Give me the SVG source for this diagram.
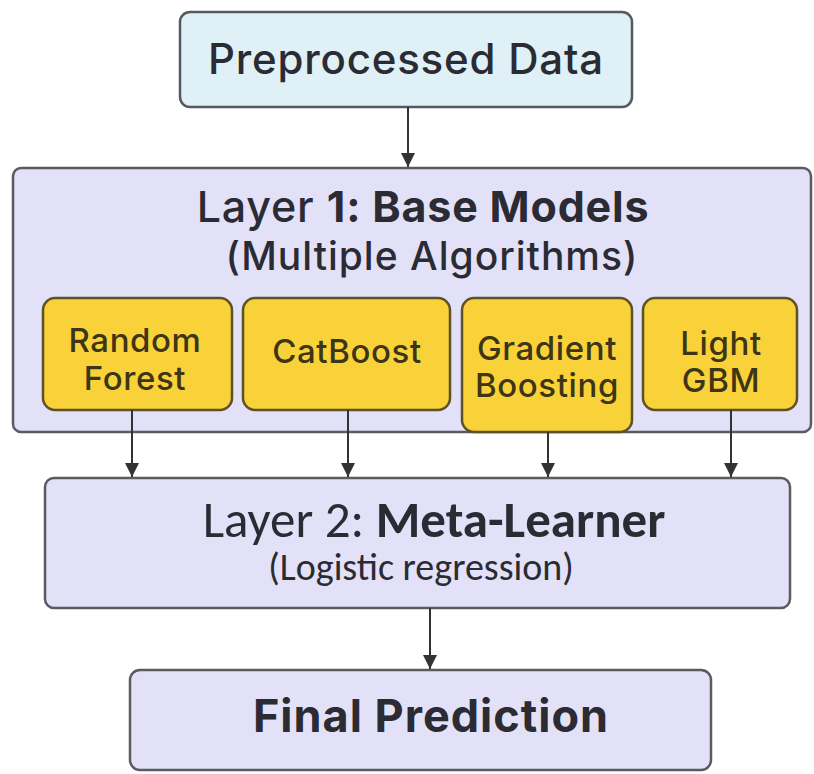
<svg xmlns="http://www.w3.org/2000/svg" width="814" height="774" viewBox="0 0 814 774">
<defs>
<marker id="ah" viewBox="0 0 10 10" refX="10" refY="5" markerWidth="15" markerHeight="14" markerUnits="userSpaceOnUse" orient="auto">
<path d="M0,0 L10,5 L0,10 z" fill="#333"/>
</marker>
<style>
.t{font-family:Inter,"Liberation Sans",sans-serif;fill:#2b2b33;text-anchor:middle;font-weight:500}
.b{font-weight:bold}
.lav{fill:#e3e1f8;stroke:#5a5a60;stroke-width:2.5}
.blue{fill:#dff0f6;stroke:#555a5e;stroke-width:2.5}
.yel{fill:#f9d23a;stroke:#5d5227;stroke-width:2.5}
.yt{font-family:Inter,"Liberation Sans",sans-serif;fill:#3d3515;text-anchor:middle;font-size:33px;font-weight:500;letter-spacing:0.6px}
.c{font-family:Carlito,"Open Sans","Liberation Sans",sans-serif;fill:#2b2b33;text-anchor:middle}
.e{stroke:#333;stroke-width:2;fill:none}
</style>
</defs>
<rect width="814" height="774" fill="#ffffff"/>
<g id="preprocessed">
<rect class="blue" x="180" y="12" width="452" height="95" rx="10"/>
<text class="t" x="406" y="74" font-size="42" letter-spacing="0.8">Preprocessed Data</text>
</g>
<g id="layer1">
<rect class="lav" x="13" y="168" width="798" height="264" rx="8"/>
<text class="t" x="423" y="222" font-size="43" letter-spacing="0.8">Layer <tspan class="b">1: Base Models</tspan></text>
<text class="t" x="432" y="270" font-size="39" letter-spacing="1">(Multiple Algorithms)</text>
</g>
<g id="random-forest">
<rect class="yel" x="43" y="298" width="189" height="112" rx="12"/>
<text class="yt" x="135" y="352">Random</text>
<text class="yt" x="135" y="390">Forest</text>
</g>
<g id="catboost">
<rect class="yel" x="243" y="298" width="207" height="112" rx="12"/>
<text class="yt" x="347" y="363">CatBoost</text>
</g>
<g id="gradient-boosting">
<rect class="yel" x="462" y="298" width="170" height="134" rx="12"/>
<text class="yt" x="547" y="360">Gradient</text>
<text class="yt" x="547" y="397">Boosting</text>
</g>
<g id="lightgbm">
<rect class="yel" x="643" y="298" width="154" height="112" rx="12"/>
<text class="yt" x="721" y="355">Light</text>
<text class="yt" x="721" y="392">GBM</text>
</g>
<g id="layer2">
<rect class="lav" x="45" y="478" width="745" height="130" rx="9"/>
<text class="c" x="434" y="537" font-size="51">Layer 2: <tspan font-weight="bold">Meta-Learner</tspan></text>
<text class="c" x="421" y="580" font-size="38">(Logistic regression)</text>
</g>
<g id="final">
<rect class="lav" x="130" y="670" width="581" height="100" rx="10"/>
<text class="t b" x="431" y="732" font-size="45" letter-spacing="1">Final Prediction</text>
</g>
<g id="connectors">
<line class="e" x1="408" y1="107" x2="408" y2="167" marker-end="url(#ah)"/>
<line class="e" x1="132" y1="410" x2="132" y2="477" marker-end="url(#ah)"/>
<line class="e" x1="348" y1="410" x2="348" y2="477" marker-end="url(#ah)"/>
<line class="e" x1="548" y1="432" x2="548" y2="477" marker-end="url(#ah)"/>
<line class="e" x1="731" y1="410" x2="731" y2="477" marker-end="url(#ah)"/>
<line class="e" x1="430" y1="608" x2="430" y2="669" marker-end="url(#ah)"/>
</g>
</svg>
